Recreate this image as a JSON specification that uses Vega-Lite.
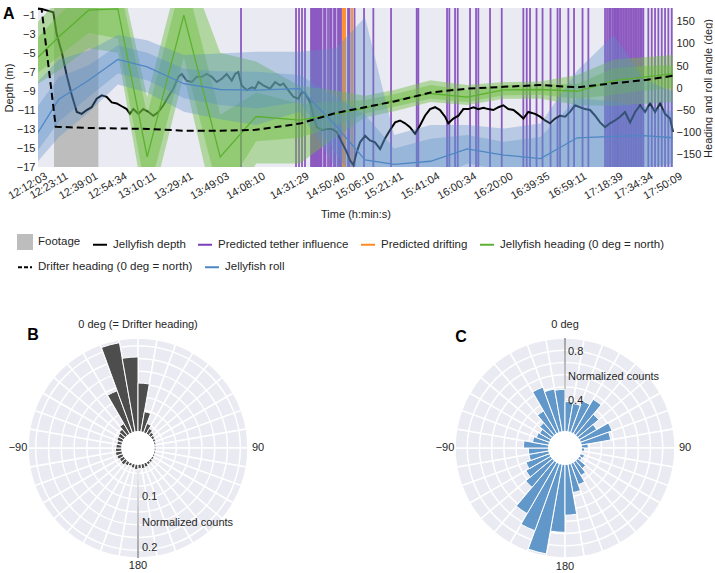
{
"$schema": "https://vega.github.io/schema/vega-lite/v6.json",
"padding": {"left": 3, "top": 4, "right": 0, "bottom": 0},
"bounds": "flush",
"spacing": 171,
"config": {
  "font": "Liberation Sans",
  "view": {"stroke": null},
  "axis": {"labelFont": "Liberation Sans", "labelFontSize": 11, "labelColor": "#262626", "titleFont": "Liberation Sans", "titleFontSize": 11, "titleFontWeight": "normal", "titleColor": "#262626", "domain": false, "ticks": false, "grid": false},
  "text": {"font": "Liberation Sans", "fontSize": 11, "color": "#262626"}
},
"datasets": {
  "footage": [{"t": 20.6, "t2": 44.2}],
  "drift": [{"t": 174.46}, {"t": 175.52}, {"t": 179.25}],
  "panelA": [{"t": 12.05, "depth": -0.25, "lab": "A"}],
  "tether": [{"t":120.14},{"t":149.43},{"t":151.03},{"t":152.62},{"t":154.22},{"t":157.42},{"t":158.22},{"t":159.02},{"t":159.82},{"t":160.61},{"t":161.41},{"t":162.21},{"t":163.01},{"t":164.34},{"t":165.14},{"t":166.47},{"t":167.53},{"t":168.33},{"t":169.66},{"t":170.46},{"t":171.79},{"t":172.59},{"t":173.39},{"t":177.12},{"t":177.92},{"t":180.58},{"t":185.64},{"t":190.6},{"t":200.02},{"t":213.7},{"t":214.55},{"t":229.84},{"t":231.06},{"t":234.1},{"t":235.53},{"t":242.08},{"t":245.28},{"t":246.5},{"t":252.73},{"t":258.96},{"t":270.46},{"t":272.27},{"t":274.03},{"t":277.49},{"t":280.69},{"t":284.95},{"t":288.68},{"t":290.01},{"t":294.43},{"t":297.46},{"t":301.99},{"t":305.08},{"t":313.97},{"t":315.03},{"t":316.1},{"t":316.9},{"t":317.86},{"t":318.76},{"t":319.56},{"t":320.36},{"t":321.05},{"t":321.95},{"t":322.86},{"t":323.71},{"t":324.62},{"t":325.52},{"t":326.37},{"t":327.28},{"t":328.18},{"t":329.04},{"t":329.94},{"t":330.85},{"t":331.7},{"t":332.61},{"t":333.51},{"t":334.36},{"t":337.02},{"t":338.83},{"t":340.59},{"t":342.35},{"t":344.16},{"t":345.92},{"t":347.67},{"t":349.48}],
  "depth": [{"t":12.05,"depth":-0.3},{"t":14.0,"depth":-0.35},{"t":16.7,"depth":-0.5},{"t":20.2,"depth":-0.7},{"t":22.0,"depth":-3.0},{"t":24.7,"depth":-4.9},{"t":27.3,"depth":-7.3},{"t":30.0,"depth":-9.4},{"t":32.7,"depth":-11.2},{"t":35.3,"depth":-11.4},{"t":38.0,"depth":-11.0},{"t":40.6,"depth":-10.7},{"t":43.3,"depth":-9.8},{"t":46.0,"depth":-9.45},{"t":48.6,"depth":-9.6},{"t":51.3,"depth":-10.2},{"t":54.0,"depth":-10.3},{"t":56.6,"depth":-10.6},{"t":59.3,"depth":-10.9},{"t":61.0,"depth":-11.4},{"t":62.8,"depth":-10.9},{"t":65.5,"depth":-11.4},{"t":68.1,"depth":-10.9},{"t":70.8,"depth":-11.2},{"t":73.5,"depth":-11.6},{"t":76.1,"depth":-11.2},{"t":78.8,"depth":-10.5},{"t":81.4,"depth":-9.6},{"t":84.1,"depth":-8.75},{"t":86.8,"depth":-7.5},{"t":88.6,"depth":-7.2},{"t":91.2,"depth":-7.9},{"t":93.9,"depth":-8.05},{"t":96.6,"depth":-7.5},{"t":99.2,"depth":-7.5},{"t":101.9,"depth":-7.2},{"t":104.6,"depth":-7.5},{"t":107.2,"depth":-8.05},{"t":109.9,"depth":-7.7},{"t":112.5,"depth":-7.2},{"t":115.2,"depth":-7.9},{"t":117.0,"depth":-7.2},{"t":118.7,"depth":-7.0},{"t":120.5,"depth":-8.4},{"t":123.2,"depth":-8.9},{"t":125.9,"depth":-8.6},{"t":127.6,"depth":-8.75},{"t":129.4,"depth":-8.05},{"t":132.0,"depth":-8.4},{"t":135.6,"depth":-8.75},{"t":138.3,"depth":-8.05},{"t":140.9,"depth":-8.4},{"t":142.7,"depth":-8.2},{"t":145.3,"depth":-8.9},{"t":148.0,"depth":-9.6},{"t":150.7,"depth":-9.8},{"t":152.5,"depth":-9.1},{"t":154.2,"depth":-9.2},{"t":156.9,"depth":-10.2},{"t":158.7,"depth":-11.6},{"t":160.5,"depth":-12.8},{"t":163.1,"depth":-13.1},{"t":165.8,"depth":-13.0},{"t":168.5,"depth":-13.0},{"t":171.1,"depth":-13.3},{"t":173.8,"depth":-14.4},{"t":176.4,"depth":-15.4},{"t":178.2,"depth":-16.3},{"t":180.0,"depth":-16.8},{"t":181.8,"depth":-15.4},{"t":183.5,"depth":-14.4},{"t":186.2,"depth":-13.7},{"t":188.8,"depth":-14.2},{"t":191.5,"depth":-14.4},{"t":194.2,"depth":-15.1},{"t":196.8,"depth":-14.0},{"t":199.5,"depth":-13.1},{"t":202.2,"depth":-12.3},{"t":204.8,"depth":-12.1},{"t":207.5,"depth":-12.4},{"t":210.1,"depth":-12.8},{"t":212.8,"depth":-13.5},{"t":215.5,"depth":-12.6},{"t":218.1,"depth":-11.6},{"t":220.8,"depth":-10.9},{"t":223.5,"depth":-10.7},{"t":226.1,"depth":-11.0},{"t":228.8,"depth":-11.7},{"t":230.5,"depth":-12.4},{"t":233.2,"depth":-11.9},{"t":235.9,"depth":-11.6},{"t":238.5,"depth":-10.9},{"t":241.2,"depth":-10.9},{"t":243.9,"depth":-10.7},{"t":246.5,"depth":-10.9},{"t":249.2,"depth":-10.75},{"t":251.8,"depth":-10.9},{"t":254.5,"depth":-11.0},{"t":257.2,"depth":-10.7},{"t":259.8,"depth":-10.5},{"t":262.5,"depth":-10.9},{"t":265.2,"depth":-11.0},{"t":267.8,"depth":-11.4},{"t":270.5,"depth":-11.9},{"t":273.1,"depth":-11.2},{"t":276.7,"depth":-11.4},{"t":279.4,"depth":-11.7},{"t":282.0,"depth":-12.1},{"t":284.7,"depth":-12.4},{"t":287.4,"depth":-11.9},{"t":290.0,"depth":-11.6},{"t":292.7,"depth":-11.7},{"t":295.3,"depth":-11.2},{"t":298.0,"depth":-10.5},{"t":300.7,"depth":-10.7},{"t":303.3,"depth":-10.9},{"t":306.0,"depth":-11.0},{"t":308.7,"depth":-11.6},{"t":311.3,"depth":-12.3},{"t":314.0,"depth":-12.8},{"t":316.6,"depth":-12.4},{"t":319.3,"depth":-12.1},{"t":322.0,"depth":-11.7},{"t":324.6,"depth":-11.2},{"t":327.3,"depth":-12.3},{"t":330.0,"depth":-11.2},{"t":332.6,"depth":-10.5},{"t":335.3,"depth":-11.2},{"t":337.9,"depth":-10.3},{"t":340.6,"depth":-11.2},{"t":343.3,"depth":-10.3},{"t":345.9,"depth":-11.4},{"t":348.6,"depth":-11.9},{"t":350.15,"depth":-13.3}],
  "heading": [
    {"t":12.05,"h":70,"dlo":35,"dhi":115,"llo":10,"lhi":150},
    {"t":23.18333,"h":116,"dlo":72,"dhi":165,"llo":40,"lhi":200},
    {"t":39.01667,"h":176,"dlo":125,"dhi":230,"llo":90,"lhi":260},
    {"t":54.56667,"h":179,"dlo":112,"dhi":250,"llo":80,"lhi":280},
    {"t":70.18333,"h":-155,"dlo":-250,"dhi":-60,"llo":-300,"lhi":-20},
    {"t":89.68333,"h":165,"dlo":70,"dhi":260,"llo":30,"lhi":300},
    {"t":109.05,"h":-155,"dlo":-250,"dhi":-60,"llo":-330,"lhi":80},
    {"t":128.16667,"h":-64,"dlo":-120,"dhi":-10,"llo":-170,"lhi":60},
    {"t":151.48333,"h":-72,"dlo":-112,"dhi":-35,"llo":-170,"lhi":5},
    {"t":170.66667,"h":-58,"dlo":-85,"dhi":-30,"llo":-110,"lhi":-5},
    {"t":186.16667,"h":-45,"dlo":-57,"dhi":-27,"llo":-66,"lhi":-17},
    {"t":201.68333,"h":-28,"dlo":-42,"dhi":-14,"llo":-52,"lhi":-4},
    {"t":221.06667,"h":-12,"dlo":-24,"dhi":7,"llo":-31,"lhi":18},
    {"t":240.56667,"h":-20,"dlo":-31,"dhi":-4,"llo":-38,"lhi":7},
    {"t":260.0,"h":-4,"dlo":-16,"dhi":7,"llo":-24,"lhi":14},
    {"t":279.58333,"h":-3,"dlo":-15,"dhi":8,"llo":-24,"lhi":15},
    {"t":299.18333,"h":-7,"dlo":-24,"dhi":10,"llo":-38,"lhi":30},
    {"t":318.65,"h":17,"dlo":-15,"dhi":45,"llo":-40,"lhi":65},
    {"t":334.56667,"h":25,"dlo":-5,"dhi":50,"llo":-35,"lhi":70},
    {"t":350.15,"h":33,"dlo":0,"dhi":52,"llo":-31,"lhi":75}
  ],
  "roll": [
    {"t":12.05,"r":-100,"dlo":-140,"dhi":-40,"llo":-165,"lhi":15},
    {"t":23.18333,"r":-25,"dlo":-75,"dhi":25,"llo":-110,"lhi":65},
    {"t":39.01667,"r":18,"dlo":-20,"dhi":52,"llo":-55,"lhi":85},
    {"t":54.56667,"r":65,"dlo":33,"dhi":97,"llo":8,"lhi":120},
    {"t":70.18333,"r":48,"dlo":18,"dhi":80,"llo":-10,"lhi":108},
    {"t":89.68333,"r":10,"dlo":-23,"dhi":44,"llo":-53,"lhi":75},
    {"t":109.05,"r":-3,"dlo":-38,"dhi":38,"llo":-70,"lhi":78},
    {"t":128.16667,"r":-4.5,"dlo":-46,"dhi":37,"llo":-83,"lhi":82},
    {"t":151.48333,"r":-1,"dlo":-31,"dhi":30,"llo":-53,"lhi":82},
    {"t":170.66667,"r":-85,"dlo":-150,"dhi":-20,"llo":-180,"lhi":90},
    {"t":186.16667,"r":-162,"dlo":-230,"dhi":-60,"llo":-330,"lhi":160},
    {"t":201.68333,"r":-172,"dlo":-220,"dhi":-136,"llo":-260,"lhi":-106},
    {"t":221.06667,"r":-165,"dlo":-210,"dhi":-114,"llo":-245,"lhi":-83},
    {"t":240.56667,"r":-137,"dlo":-170,"dhi":-106,"llo":-195,"lhi":-83},
    {"t":260.0,"r":-151,"dlo":-185,"dhi":-121,"llo":-210,"lhi":-91},
    {"t":279.58333,"r":-159,"dlo":-200,"dhi":-110,"llo":-240,"lhi":-80},
    {"t":299.18333,"r":-112,"dlo":-200,"dhi":-23,"llo":-290,"lhi":40},
    {"t":318.65,"r":-109,"dlo":-190,"dhi":-30,"llo":-270,"lhi":120},
    {"t":334.56667,"r":-107,"dlo":-180,"dhi":-40,"llo":-230,"lhi":20},
    {"t":350.15,"r":-112,"dlo":-170,"dhi":-53,"llo":-220,"lhi":-8}
  ],
  "drifter": [{"t":12.05,"d":180},{"t":14.0,"d":178},{"t":21.5,"d":-87},{"t":39.02,"d":-90},{"t":54.57,"d":-91},{"t":70.18,"d":-92},{"t":89.68,"d":-96},{"t":109.05,"d":-96},{"t":128.17,"d":-94},{"t":151.48,"d":-80},{"t":170.67,"d":-56},{"t":186.17,"d":-43},{"t":201.68,"d":-30},{"t":221.07,"d":-10},{"t":240.57,"d":-1},{"t":260.0,"d":3},{"t":279.58,"d":7},{"t":299.18,"d":2},{"t":318.65,"d":11},{"t":334.57,"d":18},{"t":350.15,"d":28}],
  "sectors": [{"a":-180,"a2":-170},{"a":-170,"a2":-160},{"a":-160,"a2":-150},{"a":-150,"a2":-140},{"a":-140,"a2":-130},{"a":-130,"a2":-120},{"a":-120,"a2":-110},{"a":-110,"a2":-100},{"a":-100,"a2":-90},{"a":-90,"a2":-80},{"a":-80,"a2":-70},{"a":-70,"a2":-60},{"a":-60,"a2":-50},{"a":-50,"a2":-40},{"a":-40,"a2":-30},{"a":-30,"a2":-20},{"a":-20,"a2":-10},{"a":-10,"a2":0},{"a":0,"a2":10},{"a":10,"a2":20},{"a":20,"a2":30},{"a":30,"a2":40},{"a":40,"a2":50},{"a":50,"a2":60},{"a":60,"a2":70},{"a":70,"a2":80},{"a":80,"a2":90},{"a":90,"a2":100},{"a":100,"a2":110},{"a":110,"a2":120},{"a":120,"a2":130},{"a":130,"a2":140},{"a":140,"a2":150},{"a":150,"a2":160},{"a":160,"a2":170},{"a":170,"a2":180}],
  "barsB": [{"a":-180,"a2":-170,"v":0.042},{"a":-170,"a2":-160,"v":0.040},{"a":-160,"a2":-150,"v":0.038},{"a":-150,"a2":-140,"v":0.040},{"a":-140,"a2":-130,"v":0.043},{"a":-130,"a2":-120,"v":0.042},{"a":-120,"a2":-110,"v":0.044},{"a":-110,"a2":-100,"v":0.045},{"a":-100,"a2":-90,"v":0.044},{"a":-90,"a2":-80,"v":0.043},{"a":-80,"a2":-70,"v":0.042},{"a":-70,"a2":-60,"v":0.044},{"a":-60,"a2":-50,"v":0.045},{"a":-50,"a2":-40,"v":0.048},{"a":-40,"a2":-30,"v":0.055},{"a":-30,"a2":-20,"v":0.119},{"a":-20,"a2":-10,"v":0.209},{"a":-10,"a2":0,"v":0.178},{"a":0,"a2":10,"v":0.127},{"a":10,"a2":20,"v":0.072},{"a":20,"a2":30,"v":0.051},{"a":30,"a2":40,"v":0.044},{"a":40,"a2":50,"v":0.040},{"a":50,"a2":60,"v":0.038},{"a":60,"a2":70,"v":0.037},{"a":70,"a2":80,"v":0.036},{"a":80,"a2":90,"v":0.035},{"a":90,"a2":100,"v":0.035},{"a":100,"a2":110,"v":0.035},{"a":110,"a2":120,"v":0.035},{"a":120,"a2":130,"v":0.036},{"a":130,"a2":140,"v":0.037},{"a":140,"a2":150,"v":0.038},{"a":150,"a2":160,"v":0.040},{"a":160,"a2":170,"v":0.041},{"a":170,"a2":180,"v":0.040}],
  "barsC": [{"a":-180,"a2":-170,"v":0.69},{"a":-170,"a2":-160,"v":0.88},{"a":-160,"a2":-150,"v":0.72},{"a":-150,"a2":-140,"v":0.62},{"a":-140,"a2":-130,"v":0.42},{"a":-130,"a2":-120,"v":0.37},{"a":-120,"a2":-110,"v":0.34},{"a":-110,"a2":-100,"v":0.30},{"a":-100,"a2":-90,"v":0.30},{"a":-90,"a2":-80,"v":0.34},{"a":-80,"a2":-70,"v":0.27},{"a":-70,"a2":-60,"v":0.25},{"a":-60,"a2":-50,"v":0.24},{"a":-50,"a2":-40,"v":0.27},{"a":-40,"a2":-30,"v":0.35},{"a":-30,"a2":-20,"v":0.53},{"a":-20,"a2":-10,"v":0.49},{"a":-10,"a2":0,"v":0.48},{"a":0,"a2":10,"v":0.38},{"a":10,"a2":20,"v":0.37},{"a":20,"a2":30,"v":0.41},{"a":30,"a2":40,"v":0.46},{"a":40,"a2":50,"v":0.36},{"a":50,"a2":60,"v":0.30},{"a":60,"a2":70,"v":0.41},{"a":70,"a2":80,"v":0.38},{"a":80,"a2":90,"v":0.19},{"a":90,"a2":100,"v":0.16},{"a":100,"a2":110,"v":0.14},{"a":110,"a2":120,"v":0.17},{"a":120,"a2":130,"v":0.16},{"a":130,"a2":140,"v":0.22},{"a":140,"a2":150,"v":0.26},{"a":150,"a2":160,"v":0.32},{"a":160,"a2":170,"v":0.37},{"a":170,"a2":180,"v":0.55}],
  "ringsB": [{"r":0.025},{"r":0.05},{"r":0.075},{"r":0.1},{"r":0.125},{"r":0.15},{"r":0.175},{"r":0.2}],
  "ringsC": [{"r":0.1},{"r":0.2},{"r":0.3},{"r":0.4},{"r":0.5},{"r":0.6},{"r":0.7},{"r":0.8}],
  "outerB": [{"lab":"0 deg (= Drifter heading)","a":0,"r":0.2404},{"lab":"90","a":90,"r":0.2346},{"lab":"\u221290","a":-90,"r":0.2346},{"lab":"180","a":180,"r":0.2297}],
  "outerC": [{"lab":"0 deg","a":0,"r":1.0065},{"lab":"90","a":90,"r":0.982},{"lab":"\u221290","a":-90,"r":0.982},{"lab":"180","a":180,"r":0.974}],
  "radB": [{"lab":"0.1","a":180,"r":0.1},{"lab":"Normalized counts","a":180,"r":0.15},{"lab":"0.2","a":180,"r":0.2}],
  "radC": [{"lab":"0.8","a":0,"r":0.8},{"lab":"Normalized counts","a":0,"r":0.6},{"lab":"0.4","a":0,"r":0.4}],
  "panelB": [{"lab":"B","a":-42.8,"r":0.3022}],
  "panelC": [{"lab":"C","a":-43.1,"r":1.2447}]
},
"vconcat": [
{
  "width": 635, "height": 159,
  "view": {"fill": "#eaeaf2", "stroke": null},
  "encoding": {"x": {"field": "t", "type": "quantitative", "scale": {"domain": [12.05, 350.15], "nice": false, "zero": false},
    "axis": {"title": "Time (h:min:s)", "values": [12.05, 23.18333, 39.01667, 54.56667, 70.18333, 89.68333, 109.05, 128.16667, 151.48333, 170.66667, 186.16667, 201.68333, 221.06667, 240.56667, 260, 279.58333, 299.18333, 318.65, 334.56667, 350.15],
      "labelExpr": "timeFormat(datetime(2000,0,1,12,0,round(datum.value*60)),'%H:%M:%S')",
      "labelAngle": -30, "labelAlign": "right", "labelBaseline": "top", "labelPadding": 3, "labelOffset": 5, "titlePadding": 8, "labelOverlap": false, "labelFlush": false, "labelBound": false}}},
  "layer": [
    {"layer": [
      {"data": {"name": "footage"}, "mark": {"type": "rect"}, "encoding": {"x2": {"field": "t2"},
        "color": {"datum": "Footage", "type": "nominal",
          "scale": {"domain": ["Footage", "Jellyfish depth", "Predicted tether influence", "Predicted drifting", "Jellyfish heading (0 deg = north)"], "range": ["#bdbdbd", "#000000", "#7b3fb8", "#ff8a1e", "#5cb030"]},
          "legend": {"title": null, "orient": "none", "legendX": -21, "legendY": 226, "direction": "horizontal", "symbolSize": 196, "symbolStrokeWidth": 2, "labelFontSize": 11.5, "labelFont": "Liberation Sans", "labelColor": "#262626", "labelOffset": 5, "columnPadding": 8, "labelLimit": 400,
            "encode": {"symbols": {"update": {
              "shape": [{"test": "datum.value === 'Footage'", "value": "square"}, {"value": "stroke"}],
              "fill": [{"test": "datum.value === 'Footage'", "value": "#bdbdbd"}, {"value": "transparent"}],
              "stroke": [{"test": "datum.value === 'Footage'", "value": "transparent"}, {"test": "datum.value === 'Predicted tether influence'", "value": "#7b3fb8"}, {"test": "datum.value === 'Predicted drifting'", "value": "#ff8a1e"}, {"test": "datum.value === 'Jellyfish heading (0 deg = north)'", "value": "#5cb030"}, {"value": "#000000"}],
              "strokeWidth": {"value": 2},
              "opacity": {"value": 1}}}}}}}},
      {"data": {"name": "tether"}, "mark": {"type": "rule", "strokeWidth": 1.8, "opacity": 0.85}, "encoding": {"color": {"datum": "Predicted tether influence", "type": "nominal"}}},
      {"data": {"name": "drift"}, "mark": {"type": "rule", "strokeWidth": 1.8}, "encoding": {"color": {"datum": "Predicted drifting", "type": "nominal"}}},
      {"data": {"name": "depth"}, "mark": {"type": "line", "strokeWidth": 2}, "encoding": {
        "y": {"field": "depth", "type": "quantitative", "scale": {"domain": [-17, -0.25], "nice": false, "zero": false}, "axis": {"title": "Depth (m)", "orient": "left", "values": [-1, -3, -5, -7, -9, -11, -13, -15, -17], "labelPadding": 3, "titlePadding": 2}},
        "color": {"datum": "Jellyfish depth", "type": "nominal"}}},
      {"data": {"name": "panelA"}, "mark": {"type": "text", "align": "left", "baseline": "alphabetic", "dx": -35, "dy": 11, "fontSize": 16, "fontWeight": "bold", "color": "#000000"}, "encoding": {
        "y": {"field": "depth", "type": "quantitative", "axis": {"title": "Depth (m)", "orient": "left", "values": [-1, -3, -5, -7, -9, -11, -13, -15, -17], "labelPadding": 3, "titlePadding": 2}}, "text": {"field": "lab"}}}
    ]},
    {"layer": [
      {"data": {"name": "heading"}, "mark": {"type": "area", "color": "#6cbf3f", "opacity": 0.45, "clip": true}, "encoding": {
        "y": {"field": "llo", "type": "quantitative", "scale": {"domain": [-178, 181], "nice": false, "zero": false}, "axis": {"title": "Heading and roll angle (deg)", "orient": "right", "values": [-150, -100, -50, 0, 50, 100, 150], "labelPadding": 3, "titleAngle": 270, "titleX": 35, "titleY": 80, "titleAlign": "center", "titleBaseline": "middle"}},
        "y2": {"field": "lhi"}}},
      {"data": {"name": "heading"}, "mark": {"type": "area", "color": "#6cbf3f", "opacity": 0.45, "clip": true}, "encoding": {
        "y": {"field": "dlo", "type": "quantitative", "axis": {"title": "Heading and roll angle (deg)", "orient": "right", "values": [-150, -100, -50, 0, 50, 100, 150], "labelPadding": 3, "titleAngle": 270, "titleX": 35, "titleY": 80, "titleAlign": "center", "titleBaseline": "middle"}}, "y2": {"field": "dhi"}}},
      {"data": {"name": "roll"}, "mark": {"type": "area", "color": "#5b8fc9", "opacity": 0.35, "clip": true}, "encoding": {
        "y": {"field": "llo", "type": "quantitative", "axis": {"title": "Heading and roll angle (deg)", "orient": "right", "values": [-150, -100, -50, 0, 50, 100, 150], "labelPadding": 3, "titleAngle": 270, "titleX": 35, "titleY": 80, "titleAlign": "center", "titleBaseline": "middle"}}, "y2": {"field": "lhi"}}},
      {"data": {"name": "roll"}, "mark": {"type": "area", "color": "#5b8fc9", "opacity": 0.35, "clip": true}, "encoding": {
        "y": {"field": "dlo", "type": "quantitative", "axis": {"title": "Heading and roll angle (deg)", "orient": "right", "values": [-150, -100, -50, 0, 50, 100, 150], "labelPadding": 3, "titleAngle": 270, "titleX": 35, "titleY": 80, "titleAlign": "center", "titleBaseline": "middle"}}, "y2": {"field": "dhi"}}},
      {"data": {"name": "heading"}, "mark": {"type": "line", "strokeWidth": 1.3, "clip": true}, "encoding": {
        "y": {"field": "h", "type": "quantitative", "axis": {"title": "Heading and roll angle (deg)", "orient": "right", "values": [-150, -100, -50, 0, 50, 100, 150], "labelPadding": 3, "titleAngle": 270, "titleX": 35, "titleY": 80, "titleAlign": "center", "titleBaseline": "middle"}}, "color": {"datum": "Jellyfish heading (0 deg = north)", "type": "nominal"}}},
      {"data": {"name": "roll"}, "mark": {"type": "line", "strokeWidth": 1.3, "clip": true}, "encoding": {
        "y": {"field": "r", "type": "quantitative", "axis": {"title": "Heading and roll angle (deg)", "orient": "right", "values": [-150, -100, -50, 0, 50, 100, 150], "labelPadding": 3, "titleAngle": 270, "titleX": 35, "titleY": 80, "titleAlign": "center", "titleBaseline": "middle"}},
        "stroke": {"datum": "Jellyfish roll", "type": "nominal",
          "scale": {"domain": ["Drifter heading (0 deg = north)", "Jellyfish roll"], "range": ["#000000", "#4f87c3"]},
          "legend": {"title": null, "orient": "none", "legendX": -21, "legendY": 251, "direction": "horizontal", "symbolSize": 196, "symbolStrokeWidth": 2, "labelFontSize": 11.5, "labelFont": "Liberation Sans", "labelColor": "#262626", "labelOffset": 5, "columnPadding": 8, "labelLimit": 400,
            "encode": {"symbols": {"update": {
              "shape": {"value": "stroke"},
              "fill": {"value": "transparent"},
              "stroke": [{"test": "datum.value === 'Jellyfish roll'", "value": "#4f87c3"}, {"value": "#000000"}],
              "strokeDash": [{"test": "datum.value === 'Jellyfish roll'", "value": [1, 0]}, {"value": [4, 2]}],
              "strokeWidth": {"value": 2},
              "opacity": {"value": 1}}}}}}}},
      {"data": {"name": "drifter"}, "mark": {"type": "line", "strokeWidth": 2, "clip": true, "strokeDash": [7, 4]}, "encoding": {
        "y": {"field": "d", "type": "quantitative", "axis": {"title": "Heading and roll angle (deg)", "orient": "right", "values": [-150, -100, -50, 0, 50, 100, 150], "labelPadding": 3, "titleAngle": 270, "titleX": 35, "titleY": 80, "titleAlign": "center", "titleBaseline": "middle"}}, "stroke": {"datum": "Drifter heading (0 deg = north)", "type": "nominal"}}}
    ]}
  ],
  "resolve": {"scale": {"y": "independent"}}
},
{
  "hconcat": [
    {
      "width": 200, "height": 220,
      "view": {"fill": null, "stroke": null},
      "layer": [
        {"data": {"name": "sectors"}, "mark": {"type": "arc", "fill": "#eaeaf2", "stroke": "#ffffff", "strokeWidth": 1.5}, "encoding": {
          "theta": {"field": "a", "type": "quantitative", "stack": null, "scale": {"domain": [-180, 180], "range": [-3.14159265, 3.14159265], "zero": false, "nice": false}},
          "theta2": {"field": "a2"},
          "radius": {"datum": 0.215, "type": "quantitative", "scale": {"type": "linear", "domain": [0, 0.215], "range": [0, 110], "zero": false, "nice": false}},
          "radius2": {"datum": 0}}},
        {"data": {"name": "ringsB"}, "mark": {"type": "arc", "fill": "transparent", "stroke": "#ffffff", "strokeWidth": 1.5}, "encoding": {
          "theta": {"datum": -180, "type": "quantitative", "stack": null}, "theta2": {"datum": 180},
          "radius": {"field": "r", "type": "quantitative"}, "radius2": {"field": "r"}}},
        {"data": {"values": [{"a": 179.6, "a2": 180.4}]}, "mark": {"type": "arc", "fill": "#8c8c8c"}, "encoding": {
          "theta": {"field": "a", "type": "quantitative", "stack": null}, "theta2": {"field": "a2"},
          "radius": {"datum": 0.215, "type": "quantitative"}, "radius2": {"datum": 0}}},
        {"data": {"name": "barsB"}, "mark": {"type": "arc", "fill": "#4d4d4d", "stroke": "#ffffff", "strokeWidth": 1}, "encoding": {
          "theta": {"field": "a", "type": "quantitative", "stack": null}, "theta2": {"field": "a2"},
          "radius": {"field": "v", "type": "quantitative"}, "radius2": {"datum": 0}}},
        {"data": {"values": [{"a": -180, "a2": 180}]}, "mark": {"type": "arc", "fill": "#ffffff"}, "encoding": {
          "theta": {"field": "a", "type": "quantitative", "stack": null}, "theta2": {"field": "a2"},
          "radius": {"datum": 0.033, "type": "quantitative"}, "radius2": {"datum": 0}}},
        {"data": {"name": "outerB"}, "mark": {"type": "text", "align": "center", "baseline": "middle", "fontSize": 11}, "encoding": {
          "theta": {"field": "a", "type": "quantitative", "stack": null}, "radius": {"field": "r", "type": "quantitative"}, "text": {"field": "lab"}}},
        {"data": {"name": "radB"}, "mark": {"type": "text", "align": "left", "baseline": "middle", "fontSize": 11, "dx": 4, "dy": -2}, "encoding": {
          "theta": {"field": "a", "type": "quantitative", "stack": null}, "radius": {"field": "r", "type": "quantitative"}, "text": {"field": "lab"}}},
        {"data": {"name": "panelB"}, "mark": {"type": "text", "align": "center", "baseline": "middle", "fontSize": 16, "fontWeight": "bold", "color": "#000000"}, "encoding": {
          "theta": {"field": "a", "type": "quantitative", "stack": null}, "radius": {"field": "r", "type": "quantitative"}, "text": {"field": "lab"}}}
      ]
    },
    {
      "width": 220, "height": 220,
      "view": {"fill": null, "stroke": null},
      "layer": [
        {"data": {"name": "sectors"}, "mark": {"type": "arc", "fill": "#eaeaf2", "stroke": "#ffffff", "strokeWidth": 1.5}, "encoding": {
          "theta": {"field": "a", "type": "quantitative", "stack": null, "scale": {"domain": [-180, 180], "range": [-3.14159265, 3.14159265], "zero": false, "nice": false}},
          "theta2": {"field": "a2"},
          "radius": {"datum": 0.9, "type": "quantitative", "scale": {"type": "linear", "domain": [0, 0.9], "range": [0, 110], "zero": false, "nice": false}},
          "radius2": {"datum": 0}}},
        {"data": {"name": "ringsC"}, "mark": {"type": "arc", "fill": "transparent", "stroke": "#ffffff", "strokeWidth": 1.5}, "encoding": {
          "theta": {"datum": -180, "type": "quantitative", "stack": null}, "theta2": {"datum": 180},
          "radius": {"field": "r", "type": "quantitative"}, "radius2": {"field": "r"}}},
        {"data": {"values": [{"a": -0.4, "a2": 0.4}]}, "mark": {"type": "arc", "fill": "#8c8c8c"}, "encoding": {
          "theta": {"field": "a", "type": "quantitative", "stack": null}, "theta2": {"field": "a2"},
          "radius": {"datum": 0.9, "type": "quantitative"}, "radius2": {"datum": 0}}},
        {"data": {"name": "barsC"}, "mark": {"type": "arc", "fill": "#6197c9", "stroke": "#ffffff", "strokeWidth": 1}, "encoding": {
          "theta": {"field": "a", "type": "quantitative", "stack": null}, "theta2": {"field": "a2"},
          "radius": {"field": "v", "type": "quantitative"}, "radius2": {"datum": 0}}},
        {"data": {"values": [{"a": -180, "a2": 180}]}, "mark": {"type": "arc", "fill": "#ffffff"}, "encoding": {
          "theta": {"field": "a", "type": "quantitative", "stack": null}, "theta2": {"field": "a2"},
          "radius": {"datum": 0.139, "type": "quantitative"}, "radius2": {"datum": 0}}},
        {"data": {"name": "outerC"}, "mark": {"type": "text", "align": "center", "baseline": "middle", "fontSize": 11}, "encoding": {
          "theta": {"field": "a", "type": "quantitative", "stack": null}, "radius": {"field": "r", "type": "quantitative"}, "text": {"field": "lab"}}},
        {"data": {"name": "radC"}, "mark": {"type": "text", "align": "left", "baseline": "middle", "fontSize": 11, "dx": 3, "dy": 2}, "encoding": {
          "theta": {"field": "a", "type": "quantitative", "stack": null}, "radius": {"field": "r", "type": "quantitative"}, "text": {"field": "lab"}}},
        {"data": {"name": "panelC"}, "mark": {"type": "text", "align": "center", "baseline": "middle", "fontSize": 16, "fontWeight": "bold", "color": "#000000"}, "encoding": {
          "theta": {"field": "a", "type": "quantitative", "stack": null}, "radius": {"field": "r", "type": "quantitative"}, "text": {"field": "lab"}}}
      ]
    }
  ],
  "spacing": 217,
  "bounds": "flush"
}
]
}
